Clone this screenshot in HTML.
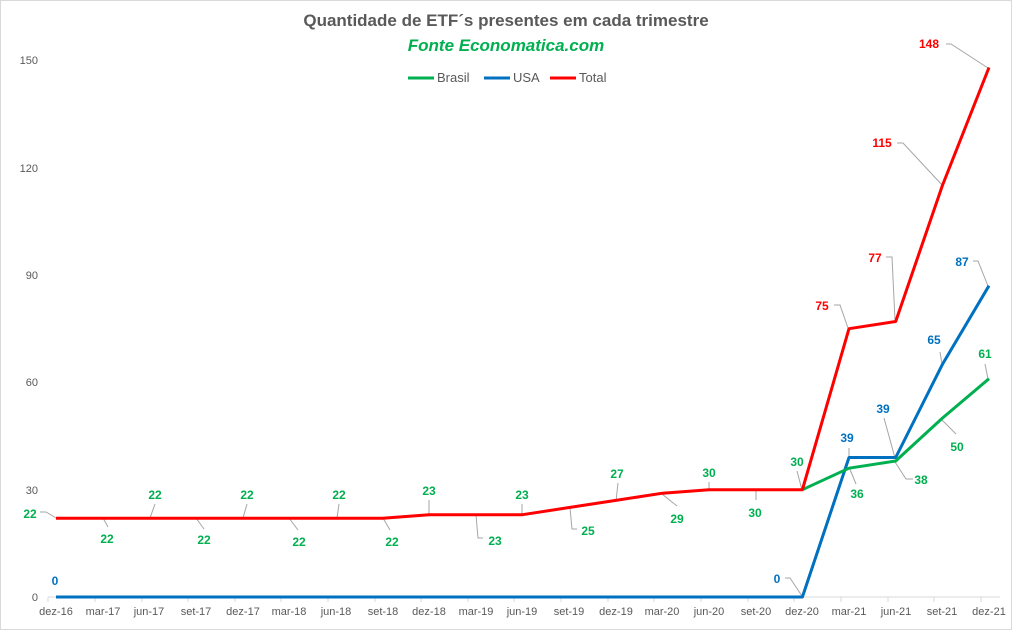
<!DOCTYPE html>
<html><head><meta charset="utf-8"><style>
html,body{margin:0;padding:0;background:#fff}
svg{display:block;font-family:"Liberation Sans",sans-serif}
</style></head><body>
<svg width="1013" height="631" viewBox="0 0 1013 631" xmlns="http://www.w3.org/2000/svg">
<rect x="0.5" y="0.5" width="1011" height="629" fill="#fff" stroke="#d9d9d9"/>
<text x="506" y="26" text-anchor="middle" font-size="17" font-weight="bold" fill="#595959">Quantidade de ETF´s presentes em cada trimestre</text>
<text x="506" y="51" text-anchor="middle" font-size="17" font-weight="bold" font-style="italic" fill="#00b050">Fonte Economatica.com</text>
<g font-size="13" fill="#595959">
<line x1="408" y1="78" x2="434" y2="78" stroke="#00b050" stroke-width="3"/><text x="437" y="82">Brasil</text>
<line x1="484" y1="78" x2="510" y2="78" stroke="#0070c0" stroke-width="3"/><text x="513" y="82">USA</text>
<line x1="550" y1="78" x2="576" y2="78" stroke="#ff0000" stroke-width="3"/><text x="579" y="82">Total</text>
</g>
<g font-size="11" fill="#595959" text-anchor="end">
<text x="38" y="601">0</text><text x="38" y="494">30</text><text x="38" y="386">60</text><text x="38" y="279">90</text><text x="38" y="172">120</text><text x="38" y="64">150</text>
</g>
<line x1="48" y1="597" x2="1000" y2="597" stroke="#d9d9d9"/>
<g stroke="#d9d9d9" id="ticks"></g>
<g font-size="11" fill="#595959" text-anchor="middle">
<text x="56" y="615">dez-16</text><text x="103" y="615">mar-17</text><text x="149" y="615">jun-17</text><text x="196" y="615">set-17</text><text x="243" y="615">dez-17</text><text x="289" y="615">mar-18</text><text x="336" y="615">jun-18</text><text x="383" y="615">set-18</text><text x="429" y="615">dez-18</text><text x="476" y="615">mar-19</text><text x="522" y="615">jun-19</text><text x="569" y="615">set-19</text><text x="616" y="615">dez-19</text><text x="662" y="615">mar-20</text><text x="709" y="615">jun-20</text><text x="756" y="615">set-20</text><text x="802" y="615">dez-20</text><text x="849" y="615">mar-21</text><text x="896" y="615">jun-21</text><text x="942" y="615">set-21</text><text x="989" y="615">dez-21</text>
</g>
<g stroke="#d9d9d9">
<line x1="48" y1="597" x2="48" y2="602"/><line x1="95" y1="597" x2="95" y2="602"/><line x1="142" y1="597" x2="142" y2="602"/><line x1="188" y1="597" x2="188" y2="602"/><line x1="235" y1="597" x2="235" y2="602"/><line x1="281" y1="597" x2="281" y2="602"/><line x1="328" y1="597" x2="328" y2="602"/><line x1="375" y1="597" x2="375" y2="602"/><line x1="421" y1="597" x2="421" y2="602"/><line x1="468" y1="597" x2="468" y2="602"/><line x1="514" y1="597" x2="514" y2="602"/><line x1="561" y1="597" x2="561" y2="602"/><line x1="608" y1="597" x2="608" y2="602"/><line x1="654" y1="597" x2="654" y2="602"/><line x1="701" y1="597" x2="701" y2="602"/><line x1="748" y1="597" x2="748" y2="602"/><line x1="794" y1="597" x2="794" y2="602"/><line x1="841" y1="597" x2="841" y2="602"/><line x1="888" y1="597" x2="888" y2="602"/><line x1="934" y1="597" x2="934" y2="602"/><line x1="981" y1="597" x2="981" y2="602"/>
</g>
<!-- leader lines -->
<g stroke="#a6a6a6" fill="none" stroke-width="1">
<polyline points="40,512 46,512 56,518"/><line x1="103" y1="518" x2="108" y2="527"/><line x1="150" y1="518" x2="155" y2="504"/><line x1="196" y1="518" x2="204" y2="529"/><line x1="243" y1="518" x2="247" y2="504"/><line x1="289" y1="518" x2="298" y2="530"/><line x1="337" y1="518" x2="339" y2="504"/><line x1="383" y1="518" x2="390" y2="530"/>
<line x1="429" y1="514" x2="429" y2="500"/><polyline points="476,515 478,538 483,538"/><line x1="522" y1="514" x2="522" y2="504"/><polyline points="570,508 572,529 577,529"/><line x1="616" y1="501" x2="618" y2="483"/><line x1="662" y1="494" x2="677" y2="506"/><line x1="709" y1="490" x2="709" y2="482"/><line x1="756" y1="490" x2="756" y2="500"/><line x1="802" y1="490" x2="797" y2="471"/>
<polyline points="785,578 790,578 802,596"/><polyline points="834,305 840,305 848,328"/><polyline points="886,257 892,257 895,320"/><polyline points="897,143 903,143 943,186"/><polyline points="946,44 951,44 988,68"/><polyline points="973,261 978,261 988,286"/><line x1="942" y1="364" x2="940" y2="352"/><line x1="849" y1="458" x2="849" y2="448"/><line x1="895" y1="458" x2="884" y2="418"/><line x1="849" y1="467" x2="856" y2="484"/><polyline points="895,462 906,479 913,479"/><line x1="942" y1="420" x2="956" y2="434"/><line x1="988" y1="379" x2="985" y2="364"/>
</g>
<g fill="none" stroke-width="3" stroke-linejoin="round">
<polyline stroke="#0070c0" points="56,597 802.4,597 849,457.5 895.7,457.5 942.4,364.4 989,285.7"/>
<polyline stroke="#00b050" points="802.4,489.7 849,468.2 895.7,461 942.4,418.1 989,378.7"/>
<polyline stroke="#ff0000" points="56,518.3 382.6,518.3 429.2,514.7 522.5,514.7 569.2,507.5 615.8,500.4 662.5,493.2 709.1,489.7 802.4,489.7 849,328.7 895.7,321.5 942.4,185.5 989,67.5"/>
</g>
<g font-size="12" font-weight="bold" fill="#00b050" text-anchor="middle">
<text x="30" y="518">22</text><text x="107" y="543">22</text><text x="155" y="499">22</text><text x="204" y="544">22</text><text x="247" y="499">22</text><text x="299" y="546">22</text><text x="339" y="499">22</text><text x="392" y="546">22</text>
<text x="429" y="495">23</text><text x="495" y="545">23</text><text x="522" y="499">23</text><text x="588" y="535">25</text><text x="617" y="478">27</text><text x="677" y="523">29</text><text x="709" y="477">30</text><text x="755" y="517">30</text><text x="797" y="466">30</text>
<text x="857" y="498">36</text><text x="921" y="484">38</text><text x="957" y="451">50</text><text x="985" y="358">61</text>
</g>
<g font-size="12" font-weight="bold" fill="#0070c0" text-anchor="middle">
<text x="55" y="585">0</text><text x="777" y="583">0</text><text x="847" y="442">39</text><text x="883" y="413">39</text><text x="934" y="344">65</text><text x="962" y="266">87</text>
</g>
<g font-size="12" font-weight="bold" fill="#ff0000" text-anchor="middle">
<text x="822" y="310">75</text><text x="875" y="262">77</text><text x="882" y="147">115</text><text x="929" y="48">148</text>
</g>
</svg>
</body></html>
